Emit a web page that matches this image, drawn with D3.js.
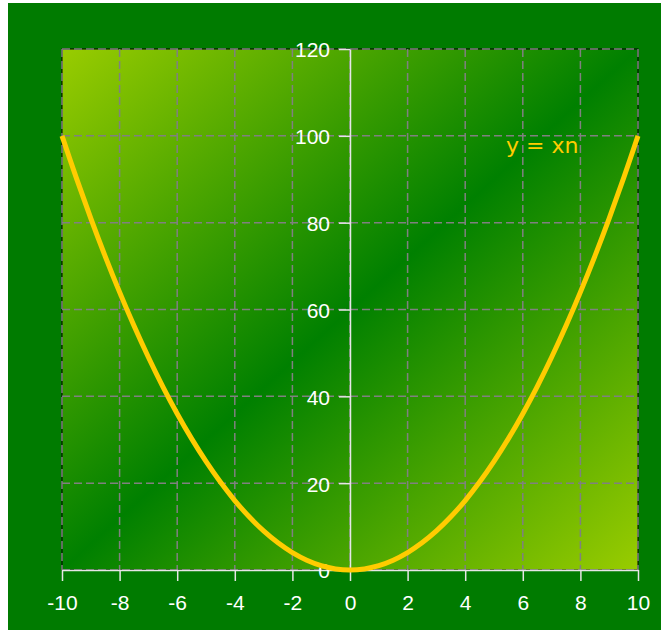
<!DOCTYPE html>
<html lang="en">
<head>
  <meta charset="UTF-8">
  <title>y = x squared</title>
  <style>
body { margin: 0; background: #ffffff; }
svg { display: block; }
.axis text { fill: #ffffff; font-family: "Liberation Sans", Arial, sans-serif; font-size: 21px; }
.axis path, .axis line { stroke: #e6e6e6; }
  </style>
</head>
<body>
  <div id="chart"></div>
  <script src="https://d3js.org/d3.v7.min.js"></script>
  <script>
// curve points
const xValues = [-10, -9.5, -9, -8.5, -8, -7.5, -7, -6.5, -6, -5.5, -5, -4.5, -4, -3.5, -3, -2.5, -2, -1.5, -1, -0.5,
  0, 0.5, 1, 1.5, 2, 2.5, 3, 3.5, 4, 4.5, 5, 5.5, 6, 6.5, 7, 7.5, 8, 8.5, 9, 9.5, 10];
const yValues = [100, 90.25, 81, 72.25, 64, 56.25, 49, 42.25, 36, 30.25, 25, 20.25, 16, 12.25, 9, 6.25, 4, 2.25, 1, 0.25,
  0, 0.25, 1, 2.25, 4, 6.25, 9, 12.25, 16, 20.25, 25, 30.25, 36, 42.25, 49, 56.25, 64, 72.25, 81, 90.25, 100];
const xTicks = [-10, -8, -6, -4, -2, 0, 2, 4, 6, 8, 10];
const yTicks = [0, 20, 40, 60, 80, 100, 120];
const label = "y = xn";

var width = 661;
var height = 630;

const svg = d3.select("#chart").append("svg")
  .attr("width", width)
  .attr("height", height);

// green panel
svg.append("rect")
  .attr("x", 8)
  .attr("y", 3)
  .attr("width", width - 8)
  .attr("height", height - 3)
  .attr("fill", "#007b00");

const x = d3.scaleLinear().domain([-10, 10]).range([62, 638]);
const y = d3.scaleLinear().domain([0, 120]).range([570, 49]);

const defs = svg.append("defs");
const grad = defs.append("linearGradient")
  .attr("id", "bg")
  .attr("x1", "0%").attr("y1", "0%")
  .attr("x2", "100%").attr("y2", "100%");
grad.append("stop").attr("offset", "0%").attr("stop-color", "#99cc00");
grad.append("stop").attr("offset", "50%").attr("stop-color", "#008000");
grad.append("stop").attr("offset", "100%").attr("stop-color", "#99cc00");

svg.append("rect")
  .attr("x", x(-10))
  .attr("y", y(120))
  .attr("width", x(10) - x(-10))
  .attr("height", y(0) - y(120))
  .attr("fill", "url(#bg)")
  .attr("stroke", "#000")
  .attr("stroke-width", 1);

// grid
svg.append("g")
  .selectAll("line")
  .data(xTicks)
  .join("line")
  .attr("x1", d => x(d)).attr("x2", d => x(d))
  .attr("y1", y(120)).attr("y2", y(0))
  .attr("stroke", "#808080")
  .attr("stroke-width", 1.5)
  .attr("stroke-dasharray", "8,4");

svg.append("g")
  .selectAll("line")
  .data(yTicks)
  .join("line")
  .attr("x1", x(-10)).attr("x2", x(10))
  .attr("y1", d => y(d)).attr("y2", d => y(d))
  .attr("stroke", "#808080")
  .attr("stroke-width", 1.5)
  .attr("stroke-dasharray", "8,4");

// axes through the origin, plain hyphen for negatives
svg.append("g")
  .attr("class", "axis")
  .attr("transform", `translate(0,${y(0)})`)
  .call(d3.axisBottom(x).tickValues(xTicks).tickFormat(d => String(d))
    .tickSize(11).tickPadding(14).tickSizeOuter(0))
  .call(g => g.selectAll("path, line").attr("stroke-width", 1.5));

svg.append("g")
  .attr("class", "axis")
  .attr("transform", `translate(${x(0)},0)`)
  .call(d3.axisLeft(y).tickValues(yTicks).tickFormat(d => String(d))
    .tickSize(11).tickPadding(9).tickSizeOuter(0))
  .call(g => g.selectAll("path, line").attr("stroke-width", 1.5))
  .call(g => g.selectAll("text").attr("dy", "0.38em"));

// the curve
const line = d3.line()
  .x((d, i) => x(xValues[i]))
  .y(d => y(d))
  .curve(d3.curveCatmullRom);

svg.append("path")
  .datum(yValues)
  .attr("fill", "none")
  .attr("stroke", "#ffcc00")
  .attr("stroke-width", 5)
  .attr("d", line);

svg.append("text")
  .attr("x", x(8) - 2)
  .attr("y", y(100) + 17)
  .attr("text-anchor", "end")
  .attr("fill", "#ffcc00")
  .style("font-family", "DejaVu Sans, sans-serif")
  .style("font-size", "22px")
  .text(label);
  </script>
</body>
</html>
